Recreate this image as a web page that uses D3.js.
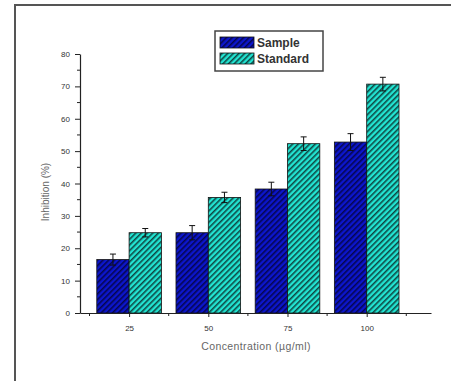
<!DOCTYPE html>
<html>
<head>
<meta charset="utf-8">
<script src="https://cdn.jsdelivr.net/npm/d3@7/dist/d3.min.js"></script>
<style>
  body { margin: 0; background: #fff; }
  svg { display: block; }
</style>
</head>
<body>
<div id="chart"></div>
<script>
const concentrations = [25, 50, 75, 100]
const sampleValues = [16.5, 24.8, 38.3, 52.8]
const sampleErrors = [1.7, 2.2, 2.1, 2.6]
const standardValues = [24.8, 35.7, 52.3, 70.7]
const standardErrors = [1.3, 1.6, 2.1, 2.1]
const yTicks = [0, 10, 20, 30, 40, 50, 60, 70, 80]
const seriesNames = ["Sample", "Standard"]

const width = 451, height = 381

const svg = d3.select("#chart")
    .append("svg")
    .attr("width", width)
    .attr("height", height)

// hatch patterns
const defs = svg.append("defs")
function hatch(id, bg, line) {
    const p = defs.append("pattern")
        .attr("id", id)
        .attr("patternUnits", "userSpaceOnUse")
        .attr("width", 4)
        .attr("height", 4)
        .attr("patternTransform", "rotate(45)")
    p.append("rect").attr("width", 4).attr("height", 4).attr("fill", bg)
    p.append("line")
        .attr("x1", 0.8).attr("y1", 0).attr("x2", 0.8).attr("y2", 4)
        .attr("stroke", line).attr("stroke-width", 1.5)
}
hatch("hatchSample", "#0c16cc", "#05054a")
hatch("hatchStandard", "#22e4d2", "#0d3f3c")
const fills = ["url(#hatchSample)", "url(#hatchStandard)"]

// frame (top and left edges only)
svg.append("path")
    .attr("d", `M15,${height} V5 H${width}`)
    .attr("fill", "none")
    .attr("stroke", "#555")
    .attr("stroke-width", 2)

const x = d3.scaleLinear().domain([9.5, 120.3]).range([80, 431])
const y = d3.scaleLinear().domain([0, 80]).range([313, 54])
const barW = x(35.2) - x(25)

const g = svg.append("g")

// bars
const groups = concentrations.map((c, i) => ({
    c,
    vals: [sampleValues[i], standardValues[i]],
    errs: [sampleErrors[i], standardErrors[i]]
}))

groups.forEach(d => {
    d.vals.forEach((v, s) => {
        const x0 = s === 0 ? x(d.c) - barW : x(d.c)
        g.append("rect")
            .attr("x", x0)
            .attr("y", y(v))
            .attr("width", barW)
            .attr("height", y(0) - y(v))
            .attr("fill", fills[s])
            .attr("stroke", "#111")
            .attr("stroke-width", 0.8)
        // error bar
        const cx = x0 + barW / 2
        const e = d.errs[s]
        g.append("line")
            .attr("x1", cx).attr("x2", cx)
            .attr("y1", y(v - e)).attr("y2", y(v + e))
            .attr("stroke", "#111").attr("stroke-width", 1)
        ;[v - e, v + e].forEach(t => {
            g.append("line")
                .attr("x1", cx - 3).attr("x2", cx + 3)
                .attr("y1", y(t)).attr("y2", y(t))
                .attr("stroke", "#111").attr("stroke-width", 1)
        })
    })
})

// y axis
const yAxis = g.append("g")
    .attr("transform", `translate(${x.range()[0]},0)`)
    .call(d3.axisLeft(y).tickValues(yTicks).tickSize(5).tickPadding(5).tickSizeOuter(0))
yAxis.select(".domain").attr("stroke", "#222").attr("stroke-width", 1.2)
yAxis.selectAll(".tick line").attr("stroke", "#222")
yAxis.selectAll("text")
    .attr("font-family", "Liberation Sans, Arial, sans-serif")
    .attr("font-size", 8)
    .attr("fill", "#333")
yAxis.selectAll(".minor")
    .data(d3.range(5, 80, 10))
    .enter().append("line")
    .attr("x1", -3).attr("x2", 0)
    .attr("y1", d => y(d)).attr("y2", d => y(d))
    .attr("stroke", "#222")

// x axis
const xAxis = g.append("g")
    .attr("transform", `translate(0,${y(0)})`)
    .call(d3.axisBottom(x).tickValues(concentrations).tickSize(4).tickPadding(8).tickSizeOuter(0))
xAxis.select(".domain").attr("stroke", "#222").attr("stroke-width", 1.2)
xAxis.selectAll(".tick line").attr("stroke", "#222")
xAxis.selectAll("text")
    .attr("font-family", "Liberation Sans, Arial, sans-serif")
    .attr("font-size", 8)
    .attr("fill", "#333")
xAxis.selectAll(".minor")
    .data([12.5, 37.5, 62.5, 87.5, 112.5])
    .enter().append("line")
    .attr("x1", d => x(d)).attr("x2", d => x(d))
    .attr("y1", 0).attr("y2", 3)
    .attr("stroke", "#222")

// axis titles
svg.append("text")
    .attr("transform", "translate(49,192) rotate(-90)")
    .attr("text-anchor", "middle")
    .attr("font-family", "Liberation Sans, Arial, sans-serif")
    .attr("font-size", 10)
    .attr("fill", "#666")
    .text("Inhibition (%)")

svg.append("text")
    .attr("x", 256)
    .attr("y", 350)
    .attr("text-anchor", "middle")
    .attr("font-family", "Liberation Sans, Arial, sans-serif")
    .attr("font-size", 10.5)
    .attr("letter-spacing", 0.4)
    .attr("fill", "#666")
    .text("Concentration (µg/ml)")

// legend
const legend = svg.append("g").attr("transform", "translate(215,31)")
legend.append("rect")
    .attr("width", 108).attr("height", 40)
    .attr("fill", "#fff")
    .attr("stroke", "#444").attr("stroke-width", 1.5)
seriesNames.forEach((name, i) => {
    legend.append("rect")
        .attr("x", 5).attr("y", 6 + i * 16)
        .attr("width", 34).attr("height", 11)
        .attr("fill", fills[i])
        .attr("stroke", "#111").attr("stroke-width", 0.8)
    legend.append("text")
        .attr("x", 42).attr("y", 16 + i * 16)
        .attr("font-family", "Liberation Sans, Arial, sans-serif")
        .attr("font-weight", "bold")
        .attr("font-size", 12)
        .attr("fill", "#333")
        .text(name)
})
</script>
</body>
</html>
